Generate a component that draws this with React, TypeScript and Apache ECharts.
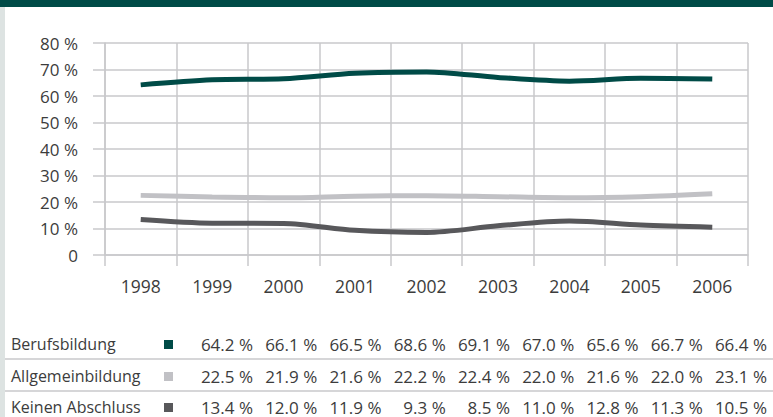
import React, { useEffect, useRef } from "react";
import * as echarts from "echarts";

const years = ["1998", "1999", "2000", "2001", "2002", "2003", "2004", "2005", "2006"];
const seriesNames = ["Berufsbildung", "Allgemeinbildung", "Keinen Abschluss"];
const berufsbildung = [64.2, 66.1, 66.5, 68.6, 69.1, 67.0, 65.6, 66.7, 66.4];
const allgemeinbildung = [22.5, 21.9, 21.6, 22.2, 22.4, 22.0, 21.6, 22.0, 23.1];
const keinenAbschluss = [13.4, 12.0, 11.9, 9.3, 8.5, 11.0, 12.8, 11.3, 10.5];
const seriesColors = ["#004b47", "#c1c1c5", "#58585b"];

const FONT = "'Open Sans', 'Noto Sans', sans-serif";
const TEXT = "#3c3c3c";
const GRIDC = "#c9c9cb";

export default function App() {
  const ref = useRef<HTMLDivElement>(null);
  useEffect(() => {
    document.body.style.margin = "0";
    const chart = echarts.init(ref.current!, null, { renderer: "svg" });
    const allData = [berufsbildung, allgemeinbildung, keinenAbschluss];

    const rowY = [344, 376, 407];
    const graphics: any[] = [
      { type: "rect", shape: { x: 0, y: 0, width: 773, height: 7 }, style: { fill: "#004b47" } },
      { type: "rect", shape: { x: 0, y: 7, width: 5, height: 410 }, style: { fill: "#dde3e2" } },
      { type: "line", shape: { x1: 5, y1: 359, x2: 773, y2: 359 }, style: { stroke: GRIDC, lineWidth: 1.5 } },
      { type: "line", shape: { x1: 5, y1: 391, x2: 773, y2: 391 }, style: { stroke: GRIDC, lineWidth: 1.5 } },
    ];
    seriesNames.forEach((name, r) => {
      graphics.push({
        type: "text",
        x: 11,
        y: rowY[r],
        style: { text: name, font: `16px ${FONT}`, fill: TEXT, textAlign: "left", textVerticalAlign: "middle" },
      });
      graphics.push({
        type: "rect",
        shape: { x: 164, y: rowY[r] - 4, width: 9, height: 9 },
        style: { fill: seriesColors[r] },
      });
      allData[r].forEach((v, i) => {
        graphics.push({
          type: "text",
          x: 253 + i * 64.25,
          y: rowY[r],
          style: {
            text: v.toFixed(1) + " %",
            font: `17px ${FONT}`,
            fill: TEXT,
            textAlign: "right",
            textVerticalAlign: "middle",
          },
        });
      });
    });

    chart.setOption({
      animation: false,
      backgroundColor: "#ffffff",
      textStyle: { fontFamily: FONT },
      grid: { left: 105, right: 25, top: 43, bottom: 162, containLabel: false },
      xAxis: {
        type: "category",
        data: years,
        boundaryGap: true,
        axisLine: { show: true, lineStyle: { color: GRIDC, width: 1.5 } },
        axisTick: { show: true, length: 11, interval: 0, lineStyle: { color: GRIDC, width: 1.5 } },
        splitLine: { show: true, interval: 0, lineStyle: { color: GRIDC, width: 1.5 } },
        axisLabel: { color: TEXT, fontSize: 17.5, margin: 22, fontFamily: FONT },
      },
      yAxis: {
        type: "value",
        min: 0,
        max: 80,
        interval: 10,
        axisLine: { show: true, lineStyle: { color: GRIDC, width: 1.5 } },
        axisTick: { show: true, length: 12, lineStyle: { color: GRIDC, width: 1.5 } },
        splitLine: { show: true, lineStyle: { color: GRIDC, width: 1.5 } },
        axisLabel: {
          color: TEXT,
          fontSize: 17,
          margin: 27,
          fontFamily: FONT,
          formatter: (v: number) => (v === 0 ? "0" : `${v} %`),
        },
      },
      series: allData.map((d, i) => ({
        name: seriesNames[i],
        type: "line",
        data: d,
        smooth: 0.3,
        showSymbol: false,
        symbol: "none",
        lineStyle: { color: seriesColors[i], width: 5 },
        itemStyle: { color: seriesColors[i] },
      })),
      graphic: graphics,
    });
    return () => chart.dispose();
  }, []);
  return <div ref={ref} style={{ position: "absolute", left: 0, top: 0, width: 773, height: 417 }} />;
}
